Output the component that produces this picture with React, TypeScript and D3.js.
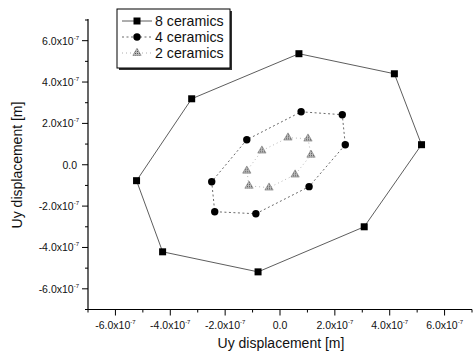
import * as d3 from "d3";
import React from "react";

// values in metres (polygon order, closed)
const eightX = [0.69e-7, 4.17e-7, 5.16e-7, 3.07e-7, -0.8e-7, -4.28e-7, -5.23e-7, -3.22e-7];
const eightY = [5.37e-7, 4.4e-7, 0.97e-7, -3.0e-7, -5.18e-7, -4.21e-7, -0.77e-7, 3.19e-7];

const fourX = [0.77e-7, 2.27e-7, 2.38e-7, 1.06e-7, -0.88e-7, -2.38e-7, -2.49e-7, -1.21e-7];
const fourY = [2.56e-7, 2.42e-7, 0.97e-7, -1.06e-7, -2.37e-7, -2.27e-7, -0.82e-7, 1.21e-7];

const twoX = [0.29e-7, 1.02e-7, 1.13e-7, 0.55e-7, -0.4e-7, -1.13e-7, -1.21e-7, -0.66e-7];
const twoY = [1.31e-7, 1.26e-7, 0.48e-7, -0.48e-7, -1.11e-7, -1.02e-7, -0.29e-7, 0.68e-7];

const seriesNames = ["8 ceramics", "4 ceramics", "2 ceramics"];
const majorTicks = [-6e-7, -4e-7, -2e-7, 0, 2e-7, 4e-7, 6e-7];
const minorTicks = [-7e-7, -5e-7, -3e-7, -1e-7, 1e-7, 3e-7, 5e-7, 7e-7];
const axisTitle = "Uy displacement [m]";

const W = 475;
const H = 355;
const FONT = "'Liberation Sans', Arial, sans-serif";

function TickLabel({ v, x, y, anchor }: { v: number; x: number; y: number; anchor: string }) {
  if (v === 0) {
    return (
      <text x={x} y={y} textAnchor={anchor} fontSize={10.5} fontFamily={FONT} fill="#111">0.0</text>
    );
  }
  const mant = (v / 1e-7).toFixed(1);
  return (
    <text x={x} y={y} textAnchor={anchor} fontSize={10.5} fontFamily={FONT} fill="#111">
      {mant}x10
      <tspan fontSize={6} dy={-5}>-7</tspan>
    </text>
  );
}

export default function App() {
  const x = d3.scaleLinear().domain([-7e-7, 7e-7]).range([88, 472]);
  const y = d3.scaleLinear().domain([-7e-7, 7e-7]).range([309.5, 20]);

  const line = d3.line<[number, number]>()
    .x(d => x(d[0]))
    .y(d => y(d[1]))
    .curve(d3.curveLinearClosed);

  const pts = (xs: number[], ys: number[]) => xs.map((v, i) => [v, ys[i]] as [number, number]);
  const eight = pts(eightX, eightY);
  const four = pts(fourX, fourY);
  const two = pts(twoX, twoY);

  const tri = d3.symbol().type(d3.symbolTriangle).size(30)();
  const x0 = x.range()[0];
  const yb = y.range()[0];

  return (
    <svg width={W} height={H} style={{ position: "absolute", left: 0, top: 0, background: "#fff" }}>
      <defs>
        <pattern id="hatch" width="2" height="2" patternUnits="userSpaceOnUse">
          <rect width="2" height="2" fill="#bbb" />
          <rect width="1" height="1" fill="#555" />
        </pattern>
      </defs>

      {/* axes */}
      <line x1={x0} x2={x0} y1={y.range()[1] - 1} y2={yb} stroke="#000" strokeWidth={1.2} />
      <line x1={x0} x2={x.range()[1]} y1={yb} y2={yb} stroke="#000" strokeWidth={1.2} />

      {majorTicks.map(t => (
        <g key={"y" + t}>
          <line x1={x0 - 6} x2={x0} y1={y(t)} y2={y(t)} stroke="#000" strokeWidth={1} />
          <TickLabel v={t} x={t === 0 ? x0 - 11 : x0 - 9} y={y(t) + 4} anchor="end" />
        </g>
      ))}
      {minorTicks.map(t => (
        <line key={"ym" + t} x1={x0 - 3} x2={x0} y1={y(t)} y2={y(t)} stroke="#000" strokeWidth={1} />
      ))}
      {majorTicks.map(t => (
        <g key={"x" + t}>
          <line x1={x(t)} x2={x(t)} y1={yb} y2={yb + 6} stroke="#000" strokeWidth={1} />
          <TickLabel v={t} x={x(t)} y={yb + 19} anchor="middle" />
        </g>
      ))}
      {minorTicks.map(t => (
        <line key={"xm" + t} x1={x(t)} x2={x(t)} y1={yb} y2={yb + 3} stroke="#000" strokeWidth={1} />
      ))}

      <text x={281} y={348} textAnchor="middle" fontSize={14} fontFamily={FONT} fill="#111">{axisTitle}</text>
      <text transform={`translate(22,165) rotate(-90)`} textAnchor="middle" fontSize={14} fontFamily={FONT} fill="#111">{axisTitle}</text>

      {/* series lines */}
      <path d={line(eight) ?? ""} fill="none" stroke="#333" strokeWidth={0.8} />
      <path d={line(four) ?? ""} fill="none" stroke="#444" strokeWidth={0.8} strokeDasharray="2,2.5" />
      <path d={line(two) ?? ""} fill="none" stroke="#999" strokeWidth={0.7} strokeDasharray="1,3" />

      {/* markers */}
      {eight.map((d, i) => (
        <rect key={"s" + i} x={x(d[0]) - 3.5} y={y(d[1]) - 3.5} width={7} height={7} fill="#000" />
      ))}
      {four.map((d, i) => (
        <circle key={"c" + i} cx={x(d[0])} cy={y(d[1])} r={3.7} fill="#000" />
      ))}
      {two.map((d, i) => (
        <path key={"t" + i} d={tri ?? ""} transform={`translate(${x(d[0])},${y(d[1])})`} fill="url(#hatch)" stroke="#666" strokeWidth={0.5} />
      ))}

      {/* legend */}
      <g>
        <rect x={119} y={11} width={113} height={59} fill="#333" />
        <rect x={117} y={9} width={113} height={59} fill="#fff" stroke="#000" strokeWidth={1} />
        {seriesNames.map((name, i) => {
          const ly = 21 + i * 16;
          return (
            <g key={name}>
              <line x1={122} x2={152} y1={ly} y2={ly}
                stroke={i === 0 ? "#333" : i === 1 ? "#444" : "#999"}
                strokeWidth={0.8}
                strokeDasharray={i === 0 ? undefined : i === 1 ? "2,2.5" : "1,3"} />
              {i === 0 && <rect x={133.5} y={ly - 3.5} width={7} height={7} fill="#000" />}
              {i === 1 && <circle cx={137} cy={ly} r={3.7} fill="#000" />}
              {i === 2 && <path d={tri ?? ""} transform={`translate(137,${ly})`} fill="url(#hatch)" stroke="#666" strokeWidth={0.5} />}
              <text x={155} y={ly + 5} fontSize={14.2} fontFamily={FONT} fill="#111">{name}</text>
            </g>
          );
        })}
      </g>
    </svg>
  );
}
